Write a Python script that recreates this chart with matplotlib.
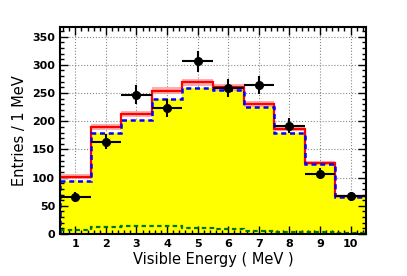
import matplotlib.pyplot as plt
import numpy as np

# bins 1..10 MeV
edges = [0.5, 1.5, 2.5, 3.5, 4.5, 5.5, 6.5, 7.5, 8.5, 9.5, 10.5]
centers = [1, 2, 3, 4, 5, 6, 7, 8, 9, 10]

# total expectation (red) and its uncertainty band
total = [102, 190, 213, 254, 269, 260, 231, 187, 126, 67]
total_err = [4, 5, 5, 6, 6, 6, 5, 5, 4, 3]

# signal (blue dashed, yellow fill)
signal = [94, 179, 202, 240, 259, 255, 225, 180, 124, 66]

# background (green dashed)
background = [7, 13, 15, 15, 11, 9, 5, 4, 3, 2]

# data points
data = [66, 164, 247, 223, 306, 259, 265, 192, 107, 67]
data_err = [9, 14, 17, 16, 18, 16, 16, 13, 10, 8]

yticks = [0, 50, 100, 150, 200, 250, 300, 350]

fig = plt.figure(figsize=(4.07, 2.76), dpi=100)
ax = fig.add_axes([0.1474, 0.152, 0.7516, 0.75])


def steps(vals):
    return np.append(vals, vals[-1])


# grid drawn by hand so the yellow fill covers it
for x in centers:
    ax.axvline(x, color='#888888', ls=':', lw=0.8, zorder=0.5)
for y in yticks[1:]:
    ax.axhline(y, color='#888888', ls=':', lw=0.8, zorder=0.5)

lo = np.array(total) - np.array(total_err)
hi = np.array(total) + np.array(total_err)

ax.fill_between(edges, 0, steps(signal), step='post', color='#ffff00', lw=0, zorder=1)
ax.fill_between(edges, steps(lo), steps(hi), step='post', color='#ff9999', alpha=0.8, lw=0, zorder=2)
ax.stairs(total, edges, color='#ff0000', lw=1.6, baseline=None, zorder=3)
ax.stairs(signal, edges, color='#0000ff', lw=1.8, ls=(0, (2, 1.5)), baseline=None, zorder=4)
ax.plot([edges[0], edges[0]], [0, signal[0]], color='#0000ff', lw=1.8, ls=(0, (2, 1.5)), zorder=4)
ax.plot([edges[-1], edges[-1]], [0, signal[-1]], color='#0000ff', lw=1.8, ls=(0, (2, 1.5)), zorder=4)
ax.stairs(background, edges, color='#007700', lw=1.6, ls=(0, (2, 1.5)), baseline=None, zorder=4)

ax.errorbar(centers, data, xerr=0.5, yerr=data_err, fmt='o', color='black',
            ms=5.5, elinewidth=1.5, capsize=0, zorder=6)

ax.set_xlim(0.5, 10.5)
ax.set_ylim(0, 367)
ax.set_xticks(centers)
ax.set_yticks(yticks)
ax.set_xticks(np.arange(0.6, 10.5, 0.2), minor=True)
ax.set_yticks(np.arange(0, 367, 10), minor=True)

ax.tick_params(which='both', direction='in', top=True, right=True, labelsize=8, width=1)
ax.tick_params(which='major', length=6)
ax.tick_params(which='minor', length=3)
for lbl in ax.get_xticklabels() + ax.get_yticklabels():
    lbl.set_fontweight('bold')
for s in ax.spines.values():
    s.set_linewidth(1.5)
    s.set_zorder(7)

ax.set_xlabel('Visible Energy ( MeV )', fontsize=10.5, labelpad=2)
ax.set_ylabel('Entries / 1 MeV', fontsize=10.5, labelpad=4)

fig.savefig('out.png', dpi=100)
